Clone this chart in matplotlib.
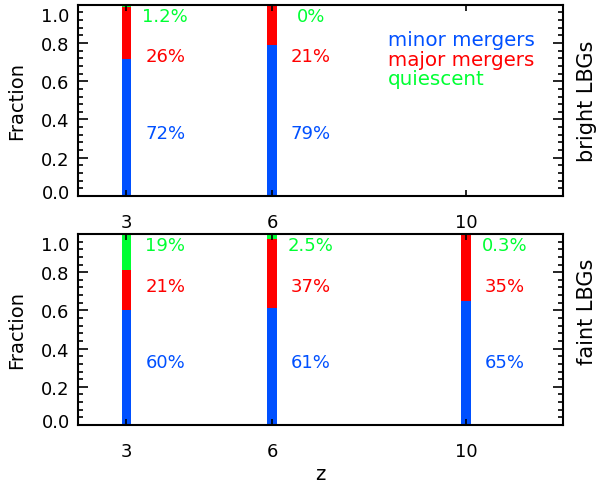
import numpy as np
import matplotlib
matplotlib.use('Agg')
import matplotlib.pyplot as plt
from matplotlib.transforms import ScaledTranslation

# redshift bins
z = [3, 6, 10]

# fractions per bin (bright LBGs, faint LBGs)
bright_minor = [0.718, 0.79, 0.0]
bright_major = [0.27, 0.21, 0.0]
bright_quiet = [0.012, 0.0, 0.0]
bright_lbl_minor = ['72%', '79%', '']
bright_lbl_major = ['26%', '21%', '']
bright_lbl_quiet = ['1.2%', '0%', '']

faint_minor = [0.60, 0.61, 0.65]
faint_major = [0.21, 0.365, 0.347]
faint_quiet = [0.19, 0.025, 0.003]
faint_lbl_minor = ['60%', '61%', '65%']
faint_lbl_major = ['21%', '37%', '35%']
faint_lbl_quiet = ['19%', '2.5%', '0.3%']

yticks = [0.0, 0.2, 0.4, 0.6, 0.8, 1.0]
ytick_labels = ['0.0', '0.2', '0.4', '0.6', '0.8', '1.0']

BLUE = '#0050ff'
RED = '#ff0000'
GREEN = '#00ff33'

plt.rcParams['font.family'] = ['DejaVu Sans']

fig = plt.figure(figsize=(5.98, 4.85), dpi=100)
ax1 = fig.add_axes([0.1304, 0.594, 0.811, 0.394])
ax2 = fig.add_axes([0.1304, 0.1216, 0.811, 0.394])


def panel(ax, minor, major, quiet, lmin, lmaj, lq, name, name_y):
    minor = np.array(minor)
    major = np.array(major)
    quiet = np.array(quiet)
    w = 0.2
    ax.bar(z, minor, width=w, color=BLUE, zorder=1)
    ax.bar(z, major, width=w, bottom=minor, color=RED, zorder=1)
    ax.bar(z, quiet, width=w, bottom=minor + major, color=GREEN, zorder=1)
    for i, x in enumerate(z):
        ax.text(x + 0.8, 0.94, lq[i], color=GREEN, fontsize=13, ha='center', va='center')
        ax.text(x + 0.8, 0.73, lmaj[i], color=RED, fontsize=13, ha='center', va='center')
        ax.text(x + 0.8, 0.33, lmin[i], color=BLUE, fontsize=13, ha='center', va='center')

    ax.set_xticks(z)
    ax.set_xticklabels([str(v) for v in z])
    ax.set_yticks(yticks)
    ax.set_yticklabels(ytick_labels)
    ax.set_yticks(np.arange(0, 1.001, 0.04), minor=True)
    ax.set_xlim(2, 12)
    ax.set_ylim(0, 1)
    ax.tick_params(axis='y', which='major', direction='in', length=7, width=1.2,
                   left=True, right=True, labelsize=13, pad=6)
    ax.tick_params(axis='y', which='minor', direction='in', length=3.5, width=1.2,
                   left=True, right=True)
    ax.tick_params(axis='x', which='major', direction='in', length=4, width=1.2,
                   top=True, bottom=True, labelsize=13, pad=12)
    # end labels pushed inside the axis range
    lbls = ax.get_yticklabels()
    lbls[0].set_transform(lbls[0].get_transform() + ScaledTranslation(0, 5 / 100, fig.dpi_scale_trans))
    lbls[-1].set_transform(lbls[-1].get_transform() + ScaledTranslation(0, -9 / 100, fig.dpi_scale_trans))
    for s in ax.spines.values():
        s.set_linewidth(1.5)
        s.set_zorder(3)
    ax.set_ylabel('Fraction', fontsize=14, va='center')
    ax.yaxis.set_label_coords(-0.126, 0.5)
    ax.text(1.049, name_y, name, transform=ax.transAxes, rotation=90,
            fontsize=15, ha='center', va='center')


panel(ax1, bright_minor, bright_major, bright_quiet,
      bright_lbl_minor, bright_lbl_major, bright_lbl_quiet, 'bright LBGs', 0.5)
panel(ax2, faint_minor, faint_major, faint_quiet,
      faint_lbl_minor, faint_lbl_major, faint_lbl_quiet, 'faint LBGs', 0.597)

# legend as coloured text
ax1.text(8.4, 0.82, 'minor mergers', color=BLUE, fontsize=14.3, ha='left', va='center')
ax1.text(8.4, 0.715, 'major mergers', color=RED, fontsize=14.3, ha='left', va='center')
ax1.text(8.4, 0.615, 'quiescent', color=GREEN, fontsize=14.3, ha='left', va='center')

ax2.set_xlabel('z', fontsize=14, va='center')
ax2.xaxis.set_label_coords(0.5, -0.256)

fig.savefig('out.png', dpi=100)
